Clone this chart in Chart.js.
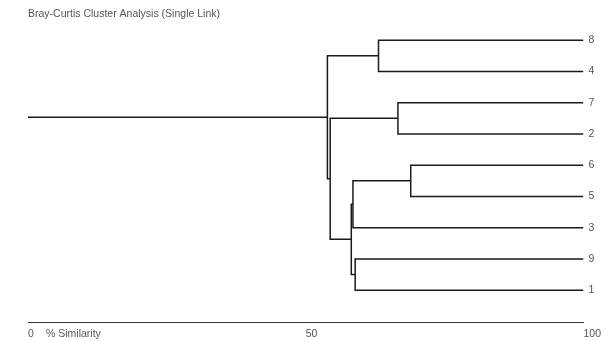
<!DOCTYPE html>
<html>
<head>
<meta charset="utf-8">
<script src="https://cdn.jsdelivr.net/npm/chart.js@4.4.1/dist/chart.umd.min.js"></script>
<style>
  html, body { margin: 0; padding: 0; background: #fff; }
</style>
</head>
<body>
<canvas id="dendro" width="607" height="341"></canvas>
<script>
const chartTitle = "Bray-Curtis Cluster Analysis (Single Link)";
const axisName = "% Similarity";

// leaf labels, top to bottom
const leaves = ["8", "4", "7", "2", "6", "5", "3", "9", "1"];

// joins in order: members 0-8 are leaves, 9+ are earlier joins
const joinLeft = [0, 2, 4, 11, 7, 12, 10, 9];
const joinRight = [1, 3, 5, 6, 8, 13, 14, 15];
const joinSim = [63.1, 66.6, 68.9, 58.5, 58.9, 58.2, 54.4, 53.9];

const xTicks = [0, 50, 100];

const textColor = "#555";
const lineColor = "#1a1a1a";
const font = { family: '"Liberation Sans", Arial, sans-serif', size: 10.5 };
const xTickPadding = 6;

// walk the joins to get every node's row and similarity
const pos = leaves.map((_, i) => i + 1);
const sim = leaves.map(() => 100);
const datasets = [];

joinSim.forEach((s, k) => {
  const l = joinLeft[k];
  const r = joinRight[k];
  pos.push((pos[l] + pos[r]) / 2);
  sim.push(s);
  datasets.push({
    data: [
      { x: sim[l], y: pos[l] },
      { x: s, y: pos[l] },
      { x: s, y: pos[r] },
      { x: sim[r], y: pos[r] },
    ],
  });
});

// stem from 0 to the last join
const rootNode = pos.length - 1;
datasets.push({ data: [{ x: 0, y: pos[rootNode] }, { x: sim[rootNode], y: pos[rootNode] }] });

datasets.forEach((d) => {
  d.showLine = true;
  d.borderColor = lineColor;
  d.borderWidth = 1.5;
  d.pointRadius = 0;
  d.tension = 0;
  d.fill = false;
});

// axis name sits on the tick label line, just right of 0
const axisNamePlugin = {
  id: "axisName",
  afterDraw(chart) {
    const xs = chart.scales.x;
    const ctx = chart.ctx;
    ctx.save();
    ctx.font = font.size + "px " + font.family;
    ctx.fillStyle = textColor;
    ctx.textAlign = "left";
    ctx.textBaseline = "middle";
    ctx.fillText(axisName, xs.getPixelForValue(0) + 18, xs.top + xTickPadding + font.size * 0.6);
    ctx.restore();
  },
};

new Chart(document.getElementById("dendro"), {
  type: "scatter",
  data: { datasets },
  plugins: [axisNamePlugin],
  options: {
    responsive: false,
    animation: false,
    layout: { padding: { left: 28, right: 0, top: 0, bottom: 0 } },
    plugins: {
      legend: { display: false },
      tooltip: { enabled: false },
      title: {
        display: true,
        text: chartTitle,
        align: "start",
        color: textColor,
        font: { ...font, weight: "normal" },
        padding: { top: 8, bottom: 1.5 },
      },
    },
    scales: {
      x: {
        type: "linear",
        min: 0,
        max: 100,
        afterBuildTicks: (scale) => {
          scale.ticks = xTicks.map((v) => ({ value: v }));
        },
        afterFit: (scale) => {
          scale.height = 19;
        },
        grid: { display: false, drawTicks: false },
        border: { display: true, color: "#333", width: 1 },
        ticks: {
          align: "start",
          padding: xTickPadding,
          color: textColor,
          font,
          callback: (v) => String(v),
        },
      },
      y: {
        type: "linear",
        position: "right",
        reverse: true,
        min: 0.42,
        max: 10.02,
        afterBuildTicks: (scale) => {
          scale.ticks = leaves.map((_, i) => ({ value: i + 1 }));
        },
        afterFit: (scale) => {
          scale.width = 22;
        },
        grid: { display: false, drawTicks: false },
        border: { display: false },
        ticks: {
          padding: 5,
          color: textColor,
          font,
          callback: (v) => leaves[v - 1],
        },
      },
    },
  },
});
</script>
</body>
</html>
